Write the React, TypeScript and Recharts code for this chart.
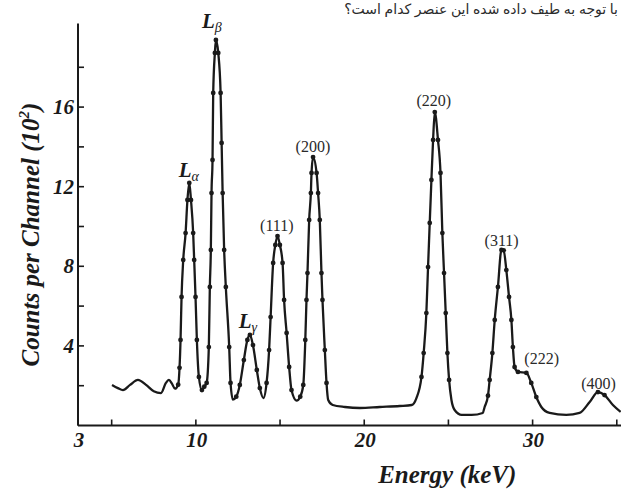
import React from 'react';
import { ComposedChart, Line, Scatter, XAxis, YAxis, Label } from 'recharts';

// ---- data ----
const energy = [
  5.02, 5.37, 5.67, 6.09, 6.56, 7.04, 7.5, 7.93, 8.22, 8.4, 8.58, 8.76,
  8.95, 9.03, 9.09, 9.15, 9.25, 9.39, 9.5, 9.61, 9.71, 9.84, 9.9, 9.98, 10.06, 10.18, 10.36,
  10.5, 10.64, 10.77, 10.83, 10.89, 10.93, 10.99, 11.03, 11.13, 11.19, 11.33, 11.47, 11.53, 11.59, 11.68, 11.78, 11.98, 12.06, 12.2,
  12.4, 12.61, 12.85, 13.06, 13.21, 13.39, 13.62, 13.8, 14.01,
  14.2, 14.35, 14.44, 14.59, 14.72, 14.85, 14.99, 15.15, 15.24, 15.39, 15.54, 15.68, 15.98,
  16.2, 16.38, 16.5, 16.57, 16.63, 16.73, 16.83, 16.87, 16.96, 17.17, 17.26, 17.36, 17.46, 17.52, 17.66, 17.76, 17.86, 18.13, 18.85, 19.74, 20.92, 22.11, 22.82,
  23.1, 23.4, 23.53, 23.69, 23.79, 23.89, 23.99, 24.09, 24.19, 24.38, 24.53, 24.64, 24.74, 24.84, 24.94, 25.04, 25.18, 25.37, 25.79, 26.38, 27.04,
  27.15, 27.35, 27.45, 27.61, 27.75, 27.94, 28.15, 28.28, 28.44, 28.6, 28.74, 28.83, 28.93, 29.13, 29.63, 29.92, 30.22, 30.52, 31.01, 32.0, 32.79, 33.39, 33.88, 34.27, 34.77, 35.23,
];
const counts = [
  2.04, 1.88, 1.78, 2.04, 2.29, 2.04, 1.72, 1.63, 2.14, 2.29, 2.1, 1.85,
  2.05, 2.9, 4.3, 6.46, 8.32, 9.67, 11.33, 12.19, 11.33, 9.67, 8.32, 6.46, 4.3, 2.44, 1.78,
  1.95, 2.14, 3.94, 6.96, 8.82, 11.68, 13.34, 16.71, 18.72, 19.37, 18.72, 16.71, 14.2, 11.68, 8.82, 6.96, 3.94, 2.14, 1.3,
  1.45, 2.04, 3.29, 4.3, 4.55, 4.04, 2.79, 1.88, 1.38,
  2.14, 3.79, 5.45, 8.17, 9.07, 9.52, 9.07, 8.17, 6.31, 4.65, 2.94, 1.78, 1.25,
  1.45, 2.04, 4.3, 6.31, 7.66, 10.33, 11.68, 12.69, 13.49, 12.69, 11.68, 10.33, 7.66, 6.31, 3.79, 2.14, 1.28, 1.03, 0.93, 0.88, 0.93, 0.98, 1.03,
  1.38, 2.44, 3.64, 5.65, 7.96, 10.18, 12.34, 14.35, 15.75, 14.35, 12.69, 9.67, 7.66, 5.65, 3.64, 2.29, 1.28, 0.78, 0.53, 0.53, 0.63,
  0.93, 1.5, 2.29, 3.64, 5.3, 6.96, 8.82, 8.8, 7.81, 6.46, 5.3, 3.94, 2.94, 2.69, 2.64, 2.14, 1.43, 0.93, 0.63, 0.53, 0.63, 1.18, 1.68, 1.53, 1.03, 0.68,
];

const xTicks = [3, 5, 10, 15, 20, 25, 30, 35];
const xTickLabels = ['3', '', '10', '', '20', '', '30', ''];
const yTicks = [2, 4, 6, 8, 10, 12, 14, 16, 18];
const yTickLabels = ['', '4', '', '8', '', '12', '', '16', ''];

const peakNames = ['Lα', 'Lβ', 'Lγ', '(111)', '(200)', '(220)', '(311)', '(222)', '(400)'];
const peakLabelEnergy = [9.58, 10.95, 13.09, 14.81, 16.95, 24.13, 28.16, 30.54, 33.92];
const peakLabelCounts = [12.49, 19.97, 4.9, 9.77, 13.74, 16.06, 9.02, 3.09, 1.83];

const spectrum = energy.map((e, i) => ({
  energy: e,
  counts: counts[i],
  marked: e > 8.9 && counts[i] >= 1.4,
}));
const peakLabels = peakNames.map((name, i) => ({
  energy: peakLabelEnergy[i],
  counts: peakLabelCounts[i],
  name,
}));

const INK = '#1a1a1a';
const SERIF = '"Liberation Serif", "Times New Roman", serif';

const renderXTick = (props: any) => {
  const { x, y, payload, index } = props;
  const label = xTickLabels[xTicks.indexOf(payload.value)];
  return (
    <g key={`xt-${index}`}>
      <line x1={x} x2={x} y1={y} y2={y - 6} stroke={INK} strokeWidth={1.6} />
      {label ? (
        <text x={x + 1} y={y + 21} textAnchor="middle" fontFamily={SERIF} fontWeight="bold" fontStyle="italic" fontSize={21} fill={INK}>
          {label}
        </text>
      ) : null}
    </g>
  );
};

const renderYTick = (props: any) => {
  const { x, y, payload, index } = props;
  const label = yTickLabels[yTicks.indexOf(payload.value)];
  return (
    <g key={`yt-${index}`}>
      <line x1={x} x2={x + 6} y1={y} y2={y} stroke={INK} strokeWidth={1.6} />
      {label ? (
        <text x={x - 4} y={y + 7} textAnchor="end" fontFamily={SERIF} fontWeight="bold" fontStyle="italic" fontSize={21} fill={INK}>
          {label}
        </text>
      ) : null}
    </g>
  );
};

const renderDot = (props: any) => {
  const { cx, cy, payload, index } = props;
  if (!payload || !payload.marked) return <g key={`d-${index}`} />;
  return <circle key={`d-${index}`} cx={cx} cy={cy} r={2.4} fill={INK} />;
};

const renderPeakLabel = (props: any) => {
  const { cx, cy, payload } = props;
  const name: string = payload.name;
  if (name.startsWith('L')) {
    return (
      <text x={cx} y={cy} textAnchor="middle" fontFamily={SERIF} fill={INK}>
        <tspan fontWeight="bold" fontStyle="italic" fontSize={21}>L</tspan>
        <tspan fontStyle="italic" fontSize={14} dy={4}>{name.slice(1)}</tspan>
      </text>
    );
  }
  return (
    <text x={cx} y={cy} textAnchor="middle" fontFamily={SERIF} fontSize={16} fill="#2a2a2a">
      {name}
    </text>
  );
};

const XTitle = (props: any) => {
  const { viewBox } = props;
  return (
    <text x={viewBox.x + viewBox.width * 0.68} y={viewBox.y + 57} textAnchor="middle" fontFamily={SERIF} fontWeight="bold" fontStyle="italic" fontSize={25} fill={INK}>
      Energy (keV)
    </text>
  );
};

const YTitle = (props: any) => {
  const { viewBox } = props;
  const cx = 39;
  const cy = viewBox.y + viewBox.height * 0.525;
  return (
    <text x={cx} y={cy} transform={`rotate(-90 ${cx} ${cy})`} textAnchor="middle" fontFamily={SERIF} fontWeight="bold" fontStyle="italic" fontSize={25} fill={INK}>
      Counts per Channel (10
      <tspan fontSize={15} dy={-10}>2</tspan>
      <tspan dy={10}>)</tspan>
    </text>
  );
};

export default function App() {
  return (
    <div style={{ position: 'absolute', left: 0, top: 0, width: 621, height: 489, background: '#ffffff', overflow: 'hidden' }}>
      <div
        style={{
          position: 'absolute',
          top: 0,
          right: 3,
          fontFamily: '"Noto Sans", "DejaVu Sans", sans-serif',
          fontSize: 14,
          lineHeight: '18px',
          color: '#2b2b2b',
          whiteSpace: 'nowrap',
          direction: 'rtl',
        }}
      >
        با توجه به طیف داده شده این عنصر کدام است؟
      </div>
      <ComposedChart width={621} height={489} data={spectrum} margin={{ top: 23.5, right: 0, bottom: 0, left: 0 }}>
        <XAxis
          type="number"
          dataKey="energy"
          domain={[3, 35.25]}
          ticks={xTicks}
          interval={0}
          height={63.5}
          axisLine={{ stroke: INK, strokeWidth: 2 }}
          tickLine={false}
          tickSize={0}
          tickMargin={0}
          tick={renderXTick}
        >
          <Label content={<XTitle />} />
        </XAxis>
        <YAxis
          type="number"
          domain={[0, 20.2]}
          ticks={yTicks}
          interval={0}
          width={78}
          axisLine={{ stroke: INK, strokeWidth: 2 }}
          tickLine={false}
          tickSize={0}
          tickMargin={0}
          tick={renderYTick}
        >
          <Label content={<YTitle />} />
        </YAxis>
        <Line
          dataKey="counts"
          type="monotone"
          stroke={INK}
          strokeWidth={2.3}
          dot={renderDot}
          activeDot={false}
          isAnimationActive={false}
        />
        <Scatter data={peakLabels} dataKey="counts" shape={renderPeakLabel} isAnimationActive={false} />
      </ComposedChart>
    </div>
  );
}
